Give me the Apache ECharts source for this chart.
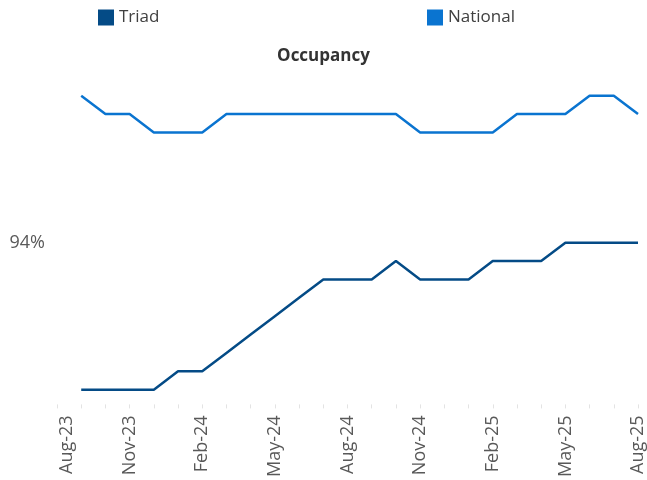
<!DOCTYPE html>
<html>
<head>
<meta charset="utf-8">
<script src="https://cdn.jsdelivr.net/npm/echarts@6/dist/echarts.min.js"></script>
<style>
  html, body { margin: 0; padding: 0; background: #fff; }
  #chart { width: 647px; height: 480px; }
</style>
</head>
<body>
<div id="chart"></div>
<script>
// 月份类目 (Aug-23 没有数据)
const months = ['Aug-23', 'Sep-23', 'Oct-23', 'Nov-23', 'Dec-23', 'Jan-24', 'Feb-24', 'Mar-24',
    'Apr-24', 'May-24', 'Jun-24', 'Jul-24', 'Aug-24', 'Sep-24', 'Oct-24', 'Nov-24', 'Dec-24',
    'Jan-25', 'Feb-25', 'Mar-25', 'Apr-25', 'May-25', 'Jun-25', 'Jul-25', 'Aug-25'];

const triad = [null, 90, 90, 90, 90, 90.5, 90.5, 91, 91.5, 92, 92.5, 93, 93, 93, 93.5, 93,
    93, 93, 93.5, 93.5, 93.5, 94, 94, 94, 94];

const national = [null, 98, 97.5, 97.5, 97, 97, 97, 97.5, 97.5, 97.5, 97.5, 97.5, 97.5, 97.5,
    97.5, 97, 97, 97, 97, 97.5, 97.5, 97.5, 98, 98, 97.5];

const yLabels = [94]; // 只显示94%

const font = "'Open Sans', sans-serif";

var myChart = echarts.init(document.getElementById('chart'));

var option = {
    animation: false,
    color: ['#044b86', '#0a74d0'],
    title: {
        text: 'Occupancy',
        left: 'center',
        top: 43,
        textStyle: { fontFamily: font, fontSize: 17, fontWeight: 'bold', color: '#333' }
    },
    // 两个图例分开放
    legend: [
        {
            data: ['Triad'], left: 93, top: 4,
            icon: 'rect', itemWidth: 16, itemHeight: 16, itemGap: 6,
            textStyle: { fontFamily: font, fontSize: 17, color: '#404040' }
        },
        {
            data: ['National'], left: 422, top: 4,
            icon: 'rect', itemWidth: 16, itemHeight: 16,
            textStyle: { fontFamily: font, fontSize: 17, color: '#404040' }
        }
    ],
    grid: { left: 57, right: 8, top: 81, bottom: 75 },
    xAxis: {
        type: 'category',
        data: months,
        boundaryGap: false,
        axisLine: { show: false },
        axisTick: { show: true, interval: 0, length: 4, lineStyle: { color: '#e3e3e3' } },
        axisLabel: {
            interval: 2,
            rotate: 90,
            margin: 11,
            fontFamily: font,
            fontSize: 18,
            color: '#595959',
            // 第一个标签往右挪一点
            formatter: (v, i) => i === 0 ? '{first|' + v + '}' : v,
            rich: {
                first: { fontFamily: font, fontSize: 18, color: '#595959', padding: [20, 0, 0, 0] }
            }
        },
        splitLine: { show: false }
    },
    yAxis: {
        type: 'value',
        min: 89.6,
        max: 98.4,
        interval: 0.4,
        axisLine: { show: false },
        axisTick: { show: false },
        splitLine: { show: false },
        axisLabel: {
            margin: 12,
            fontFamily: font,
            fontSize: 18,
            color: '#595959',
            formatter: v => yLabels.some(t => Math.abs(t - v) < 1e-6) ? Math.round(v) + '%' : ''
        }
    },
    series: [
        {
            name: 'Triad',
            type: 'line',
            data: triad,
            symbol: 'none',
            lineStyle: { width: 2.5 }
        },
        {
            name: 'National',
            type: 'line',
            data: national,
            symbol: 'none',
            lineStyle: { width: 2.5 }
        }
    ]
};

myChart.setOption(option);
</script>
</body>
</html>
